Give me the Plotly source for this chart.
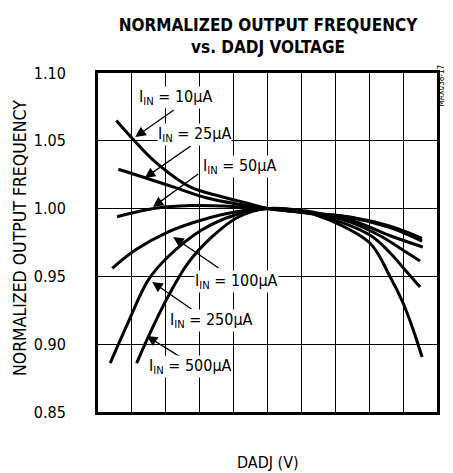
import plotly.graph_objects as go

# DADJ voltage (V) and normalized output frequency
x_10 = [-2.23, -1.98, -1.69, -1.14, -0.66, -0.3, 0.0, 0.48, 1.22, 1.81, 2.28]
y_10 = [1.065, 1.051, 1.036, 1.016, 1.0086, 1.004, 1.0, 0.9975, 0.9938, 0.987, 0.978]

x_25 = [-2.2, -1.84, -1.39, -0.89, -0.4, 0.0, 0.5, 1.22, 1.81, 2.28]
y_25 = [1.029, 1.0233, 1.016, 1.0078, 1.003, 1.0, 0.9972, 0.9935, 0.986, 0.976]

x_50 = [-2.22, -1.63, -1.14, -0.66, -0.3, 0.0, 0.5, 1.22, 1.81, 2.29]
y_50 = [0.994, 1.0004, 1.0022, 1.0019, 1.001, 1.0, 0.9975, 0.9916, 0.98, 0.9717]

x_100 = [-2.29, -1.95, -1.47, -0.97, -0.48, 0.0, 0.6, 1.22, 1.66, 1.95, 2.25]
y_100 = [0.956, 0.9695, 0.9827, 0.9916, 0.9975, 1.0, 0.998, 0.99, 0.98, 0.971, 0.9614]

x_250 = [-2.32, -2.06, -1.76, -1.47, -0.97, -0.48, 0.0, 0.5, 0.91, 1.51, 1.81, 2.03, 2.25]
y_250 = [0.886, 0.9156, 0.9473, 0.9643, 0.9842, 0.9953, 1.0, 0.998, 0.993, 0.9805, 0.9673, 0.9547, 0.9422]

x_500 = [-1.93, -1.76, -1.47, -1.17, -0.82, -0.43, 0.0, 0.5, 0.92, 1.51, 1.81, 2.0, 2.15, 2.28]
y_500 = [0.886, 0.9053, 0.9348, 0.9599, 0.9791, 0.9938, 1.0, 0.998, 0.9915, 0.9746, 0.9496, 0.9304, 0.9105, 0.8906]

series = [
    ("10µA", x_10, y_10),
    ("25µA", x_25, y_25),
    ("50µA", x_50, y_50),
    ("100µA", x_100, y_100),
    ("250µA", x_250, y_250),
    ("500µA", x_500, y_500),
]

# label centre, arrow tail, arrow head (data coordinates)
label_pos = {
    "10µA": (-1.36, 1.0816), "25µA": (-1.08, 1.0543), "50µA": (-0.41, 1.0307),
    "100µA": (-0.46, 0.9459), "250µA": (-0.83, 0.9178), "500µA": (-1.14, 0.8832),
}
arrow_tail = {
    "10µA": (-1.36, 1.0735), "25µA": (-1.11, 1.0469), "50µA": (-1.0, 1.0263),
    "100µA": (-0.70, 0.9555), "250µA": (-1.10, 0.9252), "500µA": (-1.26, 0.8898),
}
arrow_head = {
    "10µA": (-1.95, 1.0528), "25µA": (-1.81, 1.0226), "50µA": (-1.69, 1.0012),
    "100µA": (-1.39, 0.9791), "250µA": (-1.70, 0.9459), "500µA": (-1.78, 0.9060),
}

FONT = "DejaVu Sans Condensed, Liberation Sans Narrow, Arial Narrow, sans-serif"

# page offset of the figure (browser body margin) and figure size
OFF = 8
W, H = 453 - OFF, 473 - OFF
# plot-area geometry in reference-page pixels
PL, PR, PT, PB = 98, 437, 73, 412
PW, PH = PR - PL, PB - PT

def px(xp):
    return (xp - PL) / PW

def py(yp):
    return (PB - yp) / PH

fig = go.Figure()
for name, xs, ys in series:
    fig.add_trace(go.Scatter(
        x=xs, y=ys, mode="lines", name=name,
        line=dict(color="black", width=3, shape="spline", smoothing=1.0),
        showlegend=False, hoverinfo="skip",
    ))

annotations = []
for name, _, _ in series:
    hx, hy = arrow_head[name]
    tx, ty = arrow_tail[name]
    annotations.append(dict(
        x=hx, y=hy, ax=tx, ay=ty, xref="x", yref="y", axref="x", ayref="y",
        text="", showarrow=True, arrowhead=2, arrowsize=1.6, arrowwidth=1.3,
        arrowcolor="black", standoff=0,
    ))
    lx, ly = label_pos[name]
    annotations.append(dict(
        x=lx, y=ly, xref="x", yref="y", showarrow=False,
        text="I<sub>IN</sub> = " + name, bgcolor="white", borderpad=0,
        font=dict(family=FONT, size=16, color="black"),
    ))

annotations.append(dict(
    x=px(447), y=py(86), xref="paper", yref="paper", showarrow=False,
    text="MAX038-17", textangle=-90, xanchor="right", yanchor="middle",
    font=dict(family=FONT, size=8, color="black"),
))
annotations.append(dict(
    x=px(268), y=py(462), xref="paper", yref="paper", showarrow=False,
    text="DADJ (V)", xanchor="center", yanchor="middle",
    font=dict(family=FONT, size=16, color="black"),
))
annotations.append(dict(
    x=px(20), y=py(238), xref="paper", yref="paper", showarrow=False,
    text="NORMALIZED OUTPUT FREQUENCY", textangle=-90,
    xanchor="center", yanchor="middle",
    font=dict(family=FONT, size=17.5, color="black"),
))

fig.update_layout(
    width=W, height=H,
    margin=dict(l=PL - OFF, r=453 - PR, t=PT - OFF, b=473 - PB,
                autoexpand=False),
    paper_bgcolor="white", plot_bgcolor="white",
    title=dict(
        text="<b>NORMALIZED OUTPUT FREQUENCY<br>vs. DADJ VOLTAGE</b>",
        x=(268 - OFF) / W, xanchor="center", y=1 - (31 - OFF) / H,
        yanchor="middle",
        font=dict(family=FONT, size=17, color="black"),
    ),
    annotations=annotations,
)
fig.update_xaxes(
    range=[-2.5, 2.5], dtick=0.5, tick0=-2.5, showticklabels=False,
    showgrid=True, gridcolor="black", gridwidth=1, zeroline=False,
    showline=True, linecolor="black", linewidth=3, mirror=True, ticks="",
    automargin=False,
)
fig.update_yaxes(
    range=[0.85, 1.10], dtick=0.05, tick0=0.85, tickformat=".2f",
    showgrid=True, gridcolor="black", gridwidth=1, zeroline=False,
    showline=True, linecolor="black", linewidth=3, mirror=True, ticks="",
    ticklabelstandoff=26, automargin=False,
    tickfont=dict(family=FONT, size=16, color="black"),
)

fig.write_html("out.html")
